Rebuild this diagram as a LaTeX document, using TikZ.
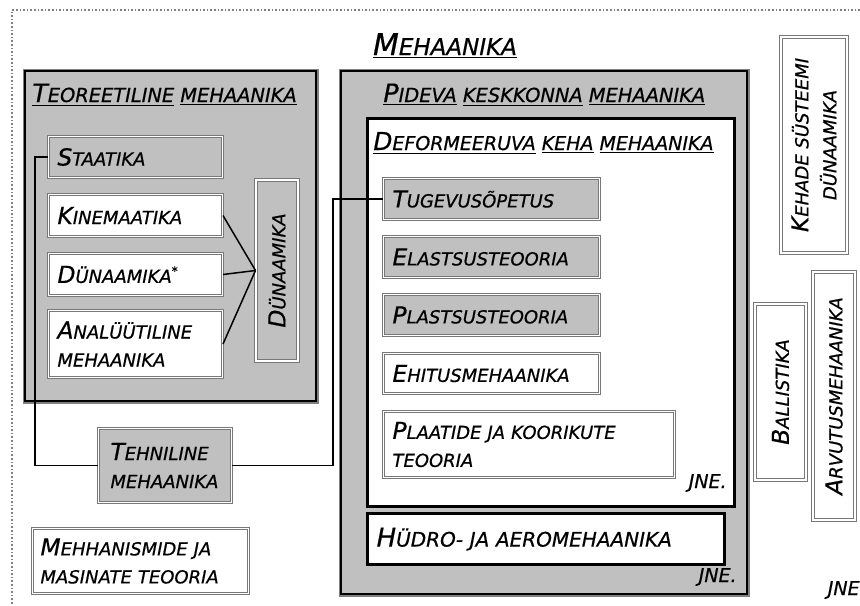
\documentclass[tikz,border=0pt]{standalone}
\usepackage{fontspec}
\setmainfont{DejaVu Sans}[ItalicFeatures={FakeBold=0.6}]
\definecolor{boxgray}{HTML}{C0C0C0}
\definecolor{edgegray}{HTML}{787878}
\makeatletter
\newcommand\C[1]{{\fontsize{\fpeval{1.3*\f@size}}{\f@baselineskip}\selectfont #1}}
\makeatother
\newcommand\U[1]{\underline{#1}}
\begin{document}
\begin{tikzpicture}[x=0.5pt,y=-0.5pt,
  font=\itshape\fontsize{9}{14}\selectfont,
  bigbox/.style={anchor=north west, fill=boxgray, draw=black, line width=1.2pt, preaction={draw=gray, line width=2.4pt}},
  blackbox/.style={anchor=north west, fill=white, draw=black, line width=1.6pt},
  sb/.style={anchor=north west, draw=edgegray, double=white, double distance=0.6pt, line width=0.5pt, inner xsep=4.5pt, inner ysep=0pt, align=left},
  wb/.style={sb, fill=white},
  gb/.style={sb, fill=boxgray},
  conn/.style={draw=black, line width=0.75pt},
  ttl/.style={anchor=base west, inner sep=0pt, font=\itshape\fontsize{9.7}{12}\selectfont},
  jne/.style={anchor=base east, inner sep=0pt, font=\itshape\fontsize{9.5}{12}\selectfont}
]
\useasboundingbox (0,0) rectangle (860,605);
\fill[white] (0,0) rectangle (860,605);
\draw[gray, densely dotted, line width=0.8pt] (860,10) -- (12,10) -- (12,605);

% title
\node[anchor=base, inner sep=0pt, font=\itshape\fontsize{11.5}{14}\selectfont] (title) at (445,55) {\U{\C{M}EHAANIKA}};

% big containers
\node[bigbox, minimum width=145.5pt, minimum height=165pt] (teo) at (24,70) {};
\node[bigbox, minimum width=203pt, minimum height=261.5pt] (pid) at (340,70) {};
\node[blackbox, minimum width=183.5pt, minimum height=194pt] (def) at (366,117) {};

\node[ttl] (tteo) at (32,102) {\U{\C{T}EOREETILINE} \U{MEHAANIKA}};
\node[ttl] (tpid) at (383,102) {\U{\C{P}IDEVA} \U{KESKKONNA} \U{MEHAANIKA}};
\node[ttl, font=\itshape\fontsize{9.5}{12}\selectfont] (tdef) at (373,150) {\U{\C{D}EFORMEERUVA} \U{KEHA} \U{MEHAANIKA}};

% left column
\node[gb, text width=78pt, minimum height=20.5pt] (sta) at (48,136) {\C{S}TAATIKA};
\node[wb, text width=78pt, minimum height=21pt] (kin) at (48,194) {\C{K}INEMAATIKA};
\node[wb, text width=78pt, minimum height=21pt] (din) at (48,253) {\C{D}ÜNAAMIKA\textsuperscript{*}};
\node[wb, text width=78pt, minimum height=33.5pt] (ana) at (48,310) {\C{A}NALÜÜTILINE\\MEHAANIKA};
\node[gb, rotate=90, anchor=center, align=center, minimum width=90.5pt, minimum height=21pt] (dyn) at (277,270.5) {\C{D}ÜNAAMIKA};

\node[gb, inner xsep=6pt, text width=54.5pt, minimum height=37pt] (teh) at (98,428) {\C{T}EHNILINE\\MEHAANIKA};
\node[wb, inner xsep=4pt, text width=100pt, minimum height=32.5pt] (mas) at (32,528) {\C{M}EHHANISMIDE JA\\MASINATE TEOORIA};

% deformable body
\node[gb, text width=99pt, minimum height=20.5pt] (tug) at (383,178) {\C{T}UGEVUSÕPETUS};
\node[gb, text width=99pt, minimum height=20.5pt] (ela) at (383,236) {\C{E}LASTSUSTEOORIA};
\node[gb, text width=99pt, minimum height=20.5pt] (pla) at (383,294) {\C{P}LASTSUSTEOORIA};
\node[wb, text width=99pt, minimum height=20pt] (ehi) at (383,353) {\C{E}HITUSMEHAANIKA};
\node[wb, text width=136.5pt, minimum height=33pt] (plt) at (383,411) {\C{P}LAATIDE JA KOORIKUTE\\TEOORIA};
\node[jne] (j1) at (727,488) {JNE.};

\node[blackbox, inner xsep=4.5pt, inner ysep=0pt, align=left, text width=169.5pt, minimum height=25.5pt, font=\itshape\fontsize{10}{12}\selectfont] (hyd) at (366,512) {\C{H}ÜDRO- JA AEROMEHAANIKA};
\node[jne] (j2) at (737,582) {JNE.};

% right column
\node[wb, rotate=90, anchor=center, align=center, minimum width=108pt, minimum height=33pt] (keh) at (814,145) {\C{K}EHADE SÜSTEEMI\\DÜNAAMIKA};
\node[wb, rotate=90, anchor=center, align=center, minimum width=124pt, minimum height=21pt] (arv) at (834,396) {\C{A}RVUTUSMEHAANIKA};
\node[wb, rotate=90, anchor=center, align=center, minimum width=88pt, minimum height=25.5pt] (bal) at (780.5,392) {\C{B}ALLISTIKA};
\node[jne] (j3) at (860,595) {JNE};

% connectors
\draw[conn] (sta.west) -- ++(-13,0) |- (teh.west);
\draw[conn] (teh.east) -- ++(101,0) |- (tug.west);
\draw[conn] (kin.east) -- (dyn.north);
\draw[conn] (din.east) -- (dyn.north);
\draw[conn] (ana.east) -- (dyn.north);
\end{tikzpicture}
\end{document}
